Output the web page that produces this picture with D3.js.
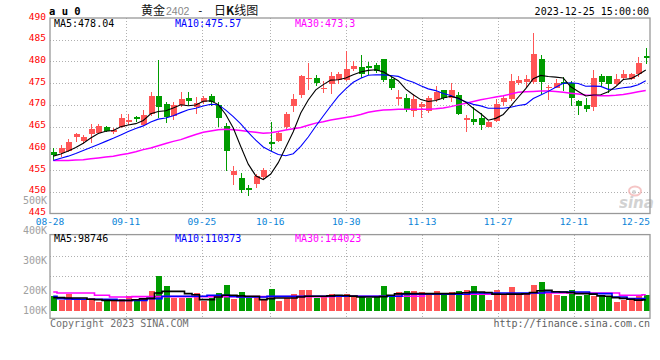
<!DOCTYPE html>
<html>
<head>
<meta charset="utf-8">
<script src="https://cdn.jsdelivr.net/npm/d3@7/dist/d3.min.js"></script>
<style>
  body { margin: 0; background: #fff; }
  svg { display: block; }
  text { font-family: "DejaVu Sans Mono", "Liberation Mono", monospace; }
</style>
</head>
<body>
<svg id="chart" width="660" height="360"></svg>
<script>
// au2402 daily candles, 2023-08-28 .. 2023-12-25
var opens = [459.2,458.9,459.5,462.5,461.7,463.4,463.6,464.9,463.8,465.0,
  466.1,467.1,465.4,467.8,472.0,470.2,467.4,469.9,471.6,469.6,
  470.6,472.1,470.0,465.1,453.8,453.1,450.8,451.8,453.5,461.5,
  461.8,465.0,469.8,472.3,475.9,476.1,473.7,474.8,475.7,475.7,
  478.2,478.8,478.9,479.2,480.5,475.9,471.4,471.5,468.5,469.6,
  468.7,471.1,473.4,471.5,472.3,466.6,466.8,466.9,465.0,466.2,
  470.7,471.3,475.1,475.3,475.3,480.5,473.8,474.0,475.2,475.0,
  470.9,470.0,469.6,476.6,476.6,474.8,476.2,475.9,477.0,481.3];
var highs = [460.0,460.8,462.1,463.5,463.0,465.6,465.5,465.1,464.6,467.8,
  467.9,467.4,468.8,473.0,480.3,470.7,470.6,472.9,473.0,471.9,
  472.0,472.4,470.6,465.8,455.9,454.3,451.6,454.2,455.5,466.0,
  463.8,468.4,472.4,476.9,479.6,476.8,475.5,477.6,477.6,482.5,
  480.0,481.5,479.9,479.6,480.6,476.4,473.4,472.4,472.4,470.6,
  472.0,474.3,473.5,475.0,472.9,467.6,469.6,468.1,466.2,471.4,
  472.3,477.0,476.6,476.8,486.5,481.5,474.6,475.9,476.5,475.4,
  471.1,471.5,478.0,477.2,476.7,477.0,478.0,477.3,481.0,483.1];
var lows = [457.3,458.0,459.2,461.5,461.1,461.3,463.2,463.8,463.3,464.6,
  465.4,466.0,465.1,467.5,467.0,465.8,466.6,469.5,470.0,467.9,
  470.2,469.8,465.0,454.8,451.6,449.8,449.0,450.8,452.6,459.5,
  461.5,464.3,468.3,471.5,473.4,474.4,472.7,472.5,474.9,475.5,
  477.9,476.2,476.8,477.4,475.2,473.4,469.9,468.3,467.2,466.9,
  468.2,470.6,471.1,470.6,467.6,463.7,465.4,464.3,464.8,466.0,
  469.8,470.9,474.6,474.2,474.9,472.5,471.2,473.9,473.2,469.8,
  467.6,468.3,468.6,474.2,472.7,474.6,475.7,475.7,476.5,479.3];
var closes = [458.5,460.0,461.4,463.3,462.7,464.5,465.1,464.1,464.2,466.9,
  466.5,466.7,467.7,472.0,469.5,467.3,470.0,471.4,470.8,470.4,
  471.6,470.6,466.9,459.4,454.8,450.4,450.3,453.6,455.0,461.1,
  463.5,468.0,471.4,476.6,476.2,475.1,474.0,476.6,477.1,478.2,
  478.9,477.0,478.5,477.9,475.7,473.9,471.8,468.9,471.4,470.1,
  471.7,473.0,471.7,473.4,468.0,467.0,466.0,465.4,466.0,470.1,
  471.5,475.5,475.7,475.9,481.6,475.2,474.2,475.0,474.9,471.5,
  469.8,469.0,476.1,475.3,474.8,475.9,477.1,477.1,479.7,480.7];
var volumes = [131000,95000,155000,95000,95000,116000,80000,104000,95000,104000,
  131000,86000,116000,175000,309000,220000,116000,119000,116000,160000,
  86000,116000,160000,229000,104000,169000,119000,125000,101000,193000,
  86000,119000,155000,184000,184000,116000,131000,155000,125000,149000,
  131000,131000,119000,125000,220000,125000,169000,175000,175000,169000,
  155000,175000,149000,169000,175000,184000,220000,169000,95000,184000,
  155000,214000,155000,160000,229000,258000,160000,140000,131000,184000,
  134000,140000,131000,131000,131000,80000,95000,110000,131000,140000];

// moving averages as drawn on the chart
var ma5 = [458.2,458.7,459.4,460.2,461.18,462.38,463.4,463.94,464.12,464.96,
  465.36,465.68,466.4,467.96,468.48,468.64,469.3,470.04,469.8,469.98,
  470.84,470.96,470.06,467.78,464.66,460.42,456.36,453.7,452.82,454.08,
  456.7,460.24,463.8,468.12,471.14,473.46,474.66,475.7,475.8,476.2,
  476.96,477.56,477.94,478.1,477.6,476.6,475.56,473.64,472.34,471.22,
  470.78,471.02,471.58,471.98,471.56,470.62,469.22,467.96,466.48,466.9,
  467.8,469.7,471.76,473.74,476.04,476.78,476.52,476.38,476.18,474.16,
  473.08,472.04,472.26,472.34,473.0,474.22,475.84,476.04,476.92,478.04];
var ma10 = [457.2,457.7,458.2,458.8,459.5,460.2,460.9,461.6,462.3,463.07,
  463.87,464.54,465.17,466.04,466.72,467.0,467.49,468.22,468.88,469.23,
  469.74,470.13,470.05,468.79,467.32,465.63,463.66,461.88,460.3,459.37,
  458.56,458.3,458.75,460.47,462.61,465.08,467.45,469.75,471.96,473.67,
  475.21,476.11,476.82,476.95,476.9,476.78,476.56,475.79,475.22,474.41,
  473.69,473.29,472.61,472.16,471.39,470.7,470.12,469.77,469.23,469.23,
  469.21,469.46,469.86,470.11,471.47,472.29,473.11,474.07,474.96,475.1,
  474.93,474.28,474.32,474.26,473.58,473.65,473.94,474.15,474.63,475.57];
var ma30 = [457.2,457.2,457.2,457.3,457.4,457.6,457.8,458.0,458.2,458.5,
  458.8,459.2,459.7,460.1,460.6,461.1,461.6,462.0,462.6,463.2,
  463.7,464.0,464.3,464.4,464.3,464.1,463.9,463.7,463.5,463.6,
  463.9,464.2,464.5,464.8,465.3,465.8,466.1,466.5,466.8,467.1,
  467.4,467.8,468.3,468.6,468.8,468.9,469.0,469.0,469.0,469.0,
  469.0,469.1,469.3,469.6,470.0,470.4,470.8,471.2,471.5,471.8,
  472.1,472.5,472.9,473.0,473.1,473.2,473.2,473.1,472.9,472.7,
  472.5,472.3,472.2,472.1,472.1,472.2,472.4,472.7,473.0,473.3];
var vma5 = [119000,119000,116000,116000,116000,105000,101000,95000,93000,93000,
  93000,100000,108000,112000,160000,175000,175000,175000,155000,145000,
  101000,101000,125000,140000,140000,135000,131000,131000,101000,110000,
  116000,116000,116000,125000,131000,131000,131000,135000,140000,138000,
  132000,125000,125000,125000,128000,140000,152000,155000,155000,155000,
  155000,155000,155000,155000,158000,162000,169000,169000,165000,150000,
  149000,150000,150000,152000,165000,180000,184000,172000,169000,165000,
  155000,155000,150000,135000,131000,119000,112000,104000,97000,98746];
var vma10 = [131000,110000,108000,106000,105000,105000,105000,105000,104000,95000,
  95000,95000,95000,110000,110000,131000,131000,131000,131000,131000,
  131000,140000,140000,140000,130000,125000,125000,125000,125000,131000,
  131000,131000,131000,131000,131000,131000,131000,131000,131000,131000,
  131000,131000,131000,131000,131000,131000,131000,149000,149000,149000,
  149000,149000,149000,149000,149000,149000,160000,160000,160000,160000,
  160000,160000,160000,160000,160000,160000,169000,169000,169000,169000,
  169000,169000,155000,155000,155000,125000,125000,110000,110000,110373];
var vma30 = [169000,160000,160000,160000,160000,160000,140000,140000,125000,125000,
  125000,128000,128000,128000,128000,128000,128000,128000,128000,128000,
  128000,128000,128000,128000,128000,128000,128000,128000,128000,128000,
  128000,128000,128000,128000,128000,128000,128000,128000,131000,131000,
  131000,131000,131000,131000,131000,131000,131000,131000,131000,131000,
  149000,149000,149000,149000,149000,149000,149000,149000,149000,149000,
  149000,149000,149000,149000,160000,160000,160000,160000,160000,160000,
  160000,160000,160000,160000,160000,160000,140000,140000,140000,144023];

var tickIndex = [0, 10, 20, 29, 39, 49, 59, 69, 79];
var tickDates = ['08-28', '09-11', '09-25', '10-16', '10-30', '11-13', '11-27', '12-11', '12-25'];
var priceTicks = [490, 485, 480, 475, 470, 465, 460, 455, 450, 445];
var volTicks = [500000, 400000, 300000, 200000, 100000];

(function() {
  var RED = '#ff5555', GREEN = '#009c00', GRID = '#b0b0b0', FRAME = '#999';

  var svg = d3.select('#chart');
  var n = closes.length;
  var pLeft = 50, pRight = 650, pTop = 18, pBottom = 213.5;
  var vTop = 234.6, vBottom = 318.3;

  var x = d3.scaleBand().domain(d3.range(n)).range([49.5, 649.5]);
  var xGrid = d3.scaleLinear().domain([0, n - 1]).range([pLeft, pRight]);
  var y = d3.scaleLinear().domain([445, 490]).range([pBottom, pTop]);
  var yVol = d3.scaleLinear().domain([0, 680000]).range([311, vTop]);
  // the volume tick labels are not evenly spaced on the original
  var yVolLabel = d3.scaleLinear().domain([100000, 200000, 500000]).range([310, 290.5, 200]);

  function cx(i) { return x(i) + x.bandwidth() / 2; }
  function up(i) { return closes[i] >= opens[i]; }

  // ---- grids
  var grid = svg.append('g').attr('stroke', GRID).attr('stroke-dasharray', '1,2')
    .attr('shape-rendering', 'crispEdges');
  grid.selectAll('line.h').data(priceTicks.filter(function(p) { return p > 445 && p < 490; }))
    .enter().append('line')
    .attr('x1', pLeft).attr('x2', pRight)
    .attr('y1', function(d) { return Math.round(y(d)) + 0.5; })
    .attr('y2', function(d) { return Math.round(y(d)) + 0.5; });
  var inner = tickIndex.filter(function(i) { return i > 0 && i < n - 1; });
  grid.selectAll('line.v').data(inner).enter().append('line')
    .attr('x1', function(d) { return Math.round(xGrid(d)) + 0.5; })
    .attr('x2', function(d) { return Math.round(xGrid(d)) + 0.5; })
    .attr('y1', pTop).attr('y2', pBottom);
  grid.selectAll('line.vv').data(inner).enter().append('line')
    .attr('x1', function(d) { return Math.round(xGrid(d)) + 0.5; })
    .attr('x2', function(d) { return Math.round(xGrid(d)) + 0.5; })
    .attr('y1', vTop).attr('y2', vBottom);
  grid.selectAll('line.vh').data([1, 2]).enter().append('line')
    .attr('x1', pLeft).attr('x2', pRight)
    .attr('y1', function(k) { return Math.round(vTop + k * (vBottom - vTop) / 4) + 0.5; })
    .attr('y2', function(k) { return Math.round(vTop + k * (vBottom - vTop) / 4) + 0.5; });

  // ---- sina watermark
  var logo = svg.append('g').attr('opacity', 0.75);
  logo.append('ellipse').attr('cx', 635).attr('cy', 191).attr('rx', 6).attr('ry', 4.5)
    .attr('fill', 'none').attr('stroke', '#f2b2b2').attr('stroke-width', 2);
  logo.append('circle').attr('cx', 634).attr('cy', 192).attr('r', 2).attr('fill', '#c8c8c8');
  logo.append('text').attr('x', 619).attr('y', 208)
    .style('font-family', '"DejaVu Sans", sans-serif').style('font-size', '15px')
    .style('font-weight', 'bold').style('font-style', 'italic')
    .attr('fill', '#c4c4c4').text('sina');

  // ---- candles
  var candles = svg.append('g').attr('shape-rendering', 'crispEdges');
  var c = candles.selectAll('g.candle').data(d3.range(n)).enter().append('g')
    .attr('fill', function(i) { return up(i) ? RED : GREEN; })
    .attr('stroke', function(i) { return up(i) ? RED : GREEN; });
  c.append('line')
    .attr('x1', function(i) { return Math.round(cx(i)) + 0.5; })
    .attr('x2', function(i) { return Math.round(cx(i)) + 0.5; })
    .attr('y1', function(i) { return y(highs[i]); })
    .attr('y2', function(i) { return y(lows[i]); });
  c.append('rect')
    .attr('stroke', 'none')
    .attr('x', function(i) { return Math.round(cx(i)) - 2.5; })
    .attr('width', 6)
    .attr('y', function(i) { return y(Math.max(opens[i], closes[i])); })
    .attr('height', function(i) { return Math.max(1.2, Math.abs(y(opens[i]) - y(closes[i]))); });

  // ---- price MA lines
  var priceLine = d3.line().x(function(d, i) { return cx(i); }).y(function(d) { return y(d); });
  [[ma30, '#ff00ff', 1.5], [ma10, '#0000ff', 1.1], [ma5, '#000', 1.1]].forEach(function(s) {
    svg.append('path').datum(s[0]).attr('d', priceLine)
      .attr('fill', 'none').attr('stroke', s[1]).attr('stroke-width', s[2]);
  });

  // ---- volume bars
  svg.append('g').attr('shape-rendering', 'crispEdges')
    .selectAll('rect').data(volumes).enter().append('rect')
    .attr('x', function(d, i) { return Math.round(cx(i)) - 2.5; })
    .attr('width', 6)
    .attr('y', function(d) { return yVol(d); })
    .attr('height', function(d) { return yVol(0) - yVol(d); })
    .attr('fill', function(d, i) { return up(i) ? RED : GREEN; });

  var volLine = d3.line().curve(d3.curveStep)
    .x(function(d, i) { return cx(i); }).y(function(d) { return yVol(d); });
  [[vma30, '#ff00ff'], [vma10, '#0000ff'], [vma5, '#000']].forEach(function(s) {
    svg.append('path').datum(s[0]).attr('d', volLine)
      .attr('fill', 'none').attr('stroke', s[1]).attr('stroke-width', 1.6);
  });

  // ---- frames
  [[pTop, pBottom], [vTop, vBottom]].forEach(function(b) {
    svg.append('rect').attr('x', pLeft).attr('y', b[0])
      .attr('width', pRight - pLeft).attr('height', b[1] - b[0])
      .attr('fill', 'none').attr('stroke', FRAME).attr('stroke-width', 1.3);
  });

  // ---- axis labels
  svg.append('g').selectAll('text').data(priceTicks).enter().append('text')
    .attr('x', 46).attr('y', function(d) { return y(d) + 1.5; })
    .attr('text-anchor', 'end').attr('fill', '#ff0000')
    .style('font-size', '9.5px').text(function(d) { return d; });

  svg.append('g').selectAll('text').data(volTicks).enter().append('text')
    .attr('x', 47).attr('y', function(d) { return yVolLabel(d) + 3.5; })
    .attr('text-anchor', 'end').attr('fill', '#a0a0a0')
    .style('font-size', '10px').text(function(d) { return (d / 1000) + 'K'; });

  svg.append('g').selectAll('text').data(tickIndex).enter().append('text')
    .attr('x', function(d, k) { return k === tickIndex.length - 1 ? pRight : xGrid(d); })
    .attr('y', 225)
    .attr('text-anchor', function(d, k) { return k === tickIndex.length - 1 ? 'end' : 'middle'; })
    .attr('fill', '#0a84d8').style('font-size', '9.5px')
    .text(function(d, k) { return tickDates[k]; });

  // ---- titles and legends
  svg.append('text').attr('x', 49).attr('y', 15).style('font-size', '10.5px')
    .style('font-weight', 'bold').attr('fill', '#000').text('a u 0');
  var cjk = '"Noto Sans CJK SC", sans-serif';
  svg.append('text').attr('x', 141).attr('y', 15).style('font-family', cjk)
    .style('font-size', '12px').attr('fill', '#111').text('黄金');
  svg.append('text').attr('x', 166).attr('y', 15)
    .style('font-family', '"Liberation Sans", sans-serif')
    .style('font-size', '10.5px').attr('fill', '#888').text('2402');
  svg.append('text').attr('x', 197).attr('y', 14).style('font-size', '11px')
    .attr('fill', '#111').text('-');
  var t = svg.append('text').attr('x', 214).attr('y', 15).style('font-family', cjk)
    .style('font-size', '12px').attr('fill', '#111');
  t.append('tspan').text('日');
  t.append('tspan').style('font-weight', 'bold').text('K');
  t.append('tspan').text('线图');
  svg.append('text').attr('x', 649).attr('y', 15).attr('text-anchor', 'end')
    .style('font-size', '10px').attr('fill', '#000').text('2023-12-25 15:00:00');

  var last = n - 1;
  var legends = [
    [27, 'MA5:' + ma5[last].toFixed(2), 'MA10:' + ma10[last].toFixed(2), 'MA30:' + ma30[last]],
    [242, 'MA5:' + Math.round(vma5[last]), 'MA10:' + Math.round(vma10[last]), 'MA30:' + Math.round(vma30[last])]
  ];
  legends.forEach(function(l) {
    svg.append('text').attr('x', 54).attr('y', l[0]).style('font-size', '10px').attr('fill', '#000').text(l[1]);
    svg.append('text').attr('x', 175).attr('y', l[0]).style('font-size', '10px').attr('fill', '#0000ff').text(l[2]);
    svg.append('text').attr('x', 295).attr('y', l[0]).style('font-size', '10px').attr('fill', '#ff00ff').text(l[3]);
  });

  svg.append('text').attr('x', 50).attr('y', 327).style('font-size', '10px')
    .attr('fill', '#707070').text('Copyright 2023 SINA.COM');
  svg.append('text').attr('x', 650).attr('y', 327).attr('text-anchor', 'end')
    .style('font-size', '10px').attr('fill', '#606060').text('http://finance.sina.com.cn');
})();
</script>
</body>
</html>
